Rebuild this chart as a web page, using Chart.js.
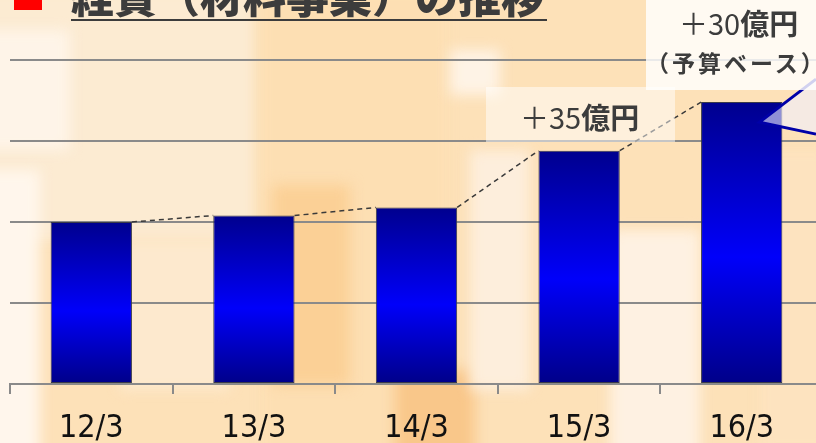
<!DOCTYPE html>
<html>
<head>
<meta charset="utf-8">
<script src="https://cdn.jsdelivr.net/npm/chart.js@4.4.1/dist/chart.umd.min.js"></script>
<style>
  html, body { margin:0; padding:0; width:816px; height:443px; overflow:hidden; }
  body { position:relative; background:#fde1b8; font-family:"Noto Sans CJK JP", sans-serif; }
  .bg { position:absolute; filter:blur(7px); }
  #wrap { position:absolute; left:0; top:0; width:823px; height:443px; }
  .ov { position:absolute; }
</style>
</head>
<body>
<!-- soft decorative background -->
<div class="bg" style="left:-20px;top:-10px;width:275px;height:250px;background:#fcebd2;"></div>
<div class="bg" style="left:-20px;top:30px;width:90px;height:120px;background:#fef4e8;"></div>
<div class="bg" style="left:-20px;top:170px;width:60px;height:300px;background:#fff6ec;"></div>
<div class="bg" style="left:262px;top:-10px;width:185px;height:470px;background:#fddfb3;"></div>
<div class="bg" style="left:272px;top:185px;width:78px;height:200px;background:#fbd096;"></div>
<div class="bg" style="left:395px;top:370px;width:80px;height:90px;background:#f9c78a;"></div>
<div class="bg" style="left:450px;top:50px;width:50px;height:45px;background:#fef3e6;"></div>
<div class="bg" style="left:470px;top:150px;width:60px;height:240px;background:#fdeedc;"></div>
<div class="bg" style="left:610px;top:230px;width:90px;height:230px;background:#fef1e2;"></div>
<div class="bg" style="left:120px;top:240px;width:110px;height:150px;background:#fde9ce;"></div>
<div class="bg" style="left:760px;top:150px;width:70px;height:300px;background:#fde3bf;"></div>

<div id="wrap"><canvas id="c" width="823" height="443"></canvas></div>

<!-- annotation boxes -->
<div class="ov" style="left:646px;top:-4px;width:180px;height:94px;background:rgba(255,255,255,0.82);"></div>
<div class="ov" style="left:486px;top:87px;width:189px;height:55px;background:rgba(255,255,255,0.5);"></div>

<!-- title -->
<div class="ov" style="left:14px;top:-4px;width:28px;height:14px;background:#ff0000;"></div>
<div class="ov" style="left:71px;top:-27px;font-size:43px;font-weight:900;color:#3c3c3c;line-height:43px;white-space:nowrap;">経費（材料事業）の推移</div>
<div class="ov" style="left:71px;top:19px;width:476px;height:2px;background:#3c3c3c;"></div>

<!-- annotations -->
<div class="ov" style="left:679px;top:4px;font-size:29px;color:#3c3c3c;line-height:36px;white-space:nowrap;"><span style="font-weight:normal;">＋30</span><span style="font-weight:bold;">億円</span></div>
<div class="ov" style="left:646px;top:47px;font-size:23px;letter-spacing:3px;font-weight:bold;color:#3c3c3c;line-height:30px;white-space:nowrap;">（予算ベース）</div>
<div class="ov" style="left:520px;top:98px;font-size:29px;color:#3c3c3c;line-height:36px;white-space:nowrap;"><span style="font-weight:normal;">＋35</span><span style="font-weight:bold;">億円</span></div>

<script>
const categories = ['12/3', '13/3', '14/3', '15/3', '16/3'];
const expenses = [100, 104, 109, 144, 174];
const yTickValues = [0, 50, 100, 150, 200];

function barGradient(context) {
  const chart = context.chart;
  const y = chart.scales && chart.scales.y;
  if (!y || context.raw === undefined) return '#0000c0';
  const top = y.getPixelForValue(context.raw);
  const bottom = y.getPixelForValue(0);
  if (!isFinite(top) || !isFinite(bottom) || top === bottom) return '#0000c0';
  const g = chart.ctx.createLinearGradient(0, top, 0, bottom);
  g.addColorStop(0, '#00008e');
  g.addColorStop(0.55, '#0000fa');
  g.addColorStop(1, '#000088');
  return g;
}

const overlayPlugin = {
  id: 'overlay',
  afterDatasetsDraw(chart) {
    const ctx = chart.ctx;
    const bars = chart.getDatasetMeta(0).data;
    ctx.save();
    ctx.strokeStyle = '#3a3a3a';
    ctx.lineWidth = 1.5;
    ctx.setLineDash([5, 4]);
    for (let i = 0; i < bars.length - 1; i++) {
      const a = bars[i], b = bars[i + 1];
      ctx.beginPath();
      ctx.moveTo(a.x + a.width / 2, a.y);
      ctx.lineTo(b.x - b.width / 2, b.y);
      ctx.stroke();
    }
    ctx.setLineDash([]);
    const last = bars[bars.length - 1];
    const tipX = last.x + last.width * 0.22;
    const tipY = last.y + 20;
    const rx = 816;
    ctx.beginPath();
    ctx.moveTo(rx, tipY - 43);
    ctx.lineTo(tipX, tipY);
    ctx.lineTo(rx, tipY + 12);
    ctx.closePath();
    ctx.fillStyle = 'rgba(240,240,255,0.6)';
    ctx.fill();
    ctx.beginPath();
    ctx.moveTo(rx, tipY - 43);
    ctx.lineTo(tipX, tipY);
    ctx.lineTo(rx, tipY + 12);
    ctx.strokeStyle = '#0000a8';
    ctx.lineWidth = 3;
    ctx.stroke();
    ctx.restore();
  }
};

new Chart(document.getElementById('c'), {
  type: 'bar',
  data: {
    labels: categories,
    datasets: [{
      data: expenses,
      backgroundColor: barGradient,
      borderColor: '#3a3a4a',
      borderWidth: 1,
      borderSkipped: false,
      barPercentage: 0.5,
      categoryPercentage: 1.0
    }]
  },
  options: {
    responsive: false,
    animation: false,
    devicePixelRatio: 1,
    layout: { padding: { left: 10, right: 0, top: 60, bottom: 0 } },
    plugins: { legend: { display: false }, tooltip: { enabled: false } },
    scales: {
      x: {
        afterFit(axis) { axis.height = 59; },
        grid: { display: true, drawOnChartArea: false, drawTicks: true, tickLength: 10, color: '#8a8a8a', lineWidth: 2, offset: true },
        border: { display: true, color: '#8a8a8a', width: 2 },
        ticks: { color: '#111111', padding: 15, font: { family: "'DejaVu Sans Condensed', 'DejaVu Sans', sans-serif", size: 32 } }
      },
      y: {
        min: 0,
        max: 200,
        afterFit(axis) { axis.width = 0; },
        afterBuildTicks(axis) { axis.ticks = yTickValues.map(v => ({ value: v })); },
        grid: { color: '#8a8a8a', lineWidth: 2, drawTicks: false },
        border: { display: false },
        ticks: { display: false }
      }
    }
  },
  plugins: [overlayPlugin]
});
</script>
</body>
</html>
